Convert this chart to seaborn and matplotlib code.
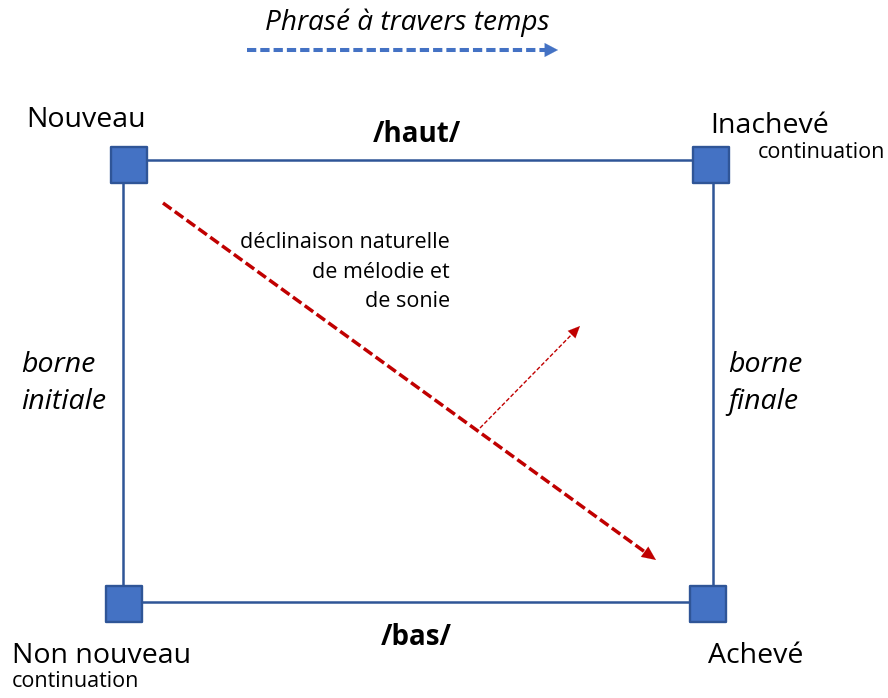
import numpy as np
import matplotlib
matplotlib.use("Agg")
import matplotlib.pyplot as plt
import seaborn as sns

# ---- data ----
frame_x = [123, 713, 713, 123, 123]
frame_y = [160, 160, 602, 602, 160]
node_x = [129, 711, 124, 708]
node_y = [165, 165, 604, 604]

time_arrow = [(247, 50), (558, 50)]
decline_arrow = [(163, 203), (656, 560)]
perp_arrow = [(480, 428), (580, 326)]

title = "Phrasé à travers temps"
corner_labels = ["Nouveau", "Inachevé", "Non nouveau", "Achevé"]
sub_labels = ["continuation", "continuation"]
edge_labels = ["/haut/", "/bas/"]
side_labels = ["borne\ninitiale", "borne\nfinale"]
note_lines = ["déclinaison naturelle", "de mélodie et", "de sonie"]

# ---- style ----
sns.set_theme(style="white")
plt.rcParams['font.family'] = ['Open Sans', 'DejaVu Sans']
plt.rcParams['text.color'] = 'black'

BLUE = '#4472C4'
DARK = '#2F5597'
RED = '#C00000'

fig = plt.figure(figsize=(8.88, 6.98), dpi=100)
ax = fig.add_axes([0, 0, 1, 1])
ax.set_xlim(0, 888)
ax.set_ylim(698, 0)
ax.axis('off')

# frame
sns.lineplot(x=frame_x, y=frame_y, sort=False, estimator=None, ax=ax,
             color=DARK, linewidth=1.8, zorder=2)
# corner nodes
sns.scatterplot(x=node_x, y=node_y, marker='s', s=670, color=BLUE,
                edgecolor=DARK, linewidth=1.7, ax=ax, zorder=4)


def dashed_arrow(p0, p1, color, lw, dash, head_len_px, hl, hw):
    p0 = np.array(p0, float)
    p1 = np.array(p1, float)
    d = p1 - p0
    u = d / np.linalg.norm(d)
    base = p1 - u * head_len_px
    sns.lineplot(x=[p0[0], base[0]], y=[p0[1], base[1]], sort=False,
                 estimator=None, ax=ax, color=color, linewidth=lw,
                 linestyle=(0, dash), zorder=3)
    ax.annotate('', xy=tuple(p1), xytext=tuple(p1 - u * (head_len_px + 1)),
                arrowprops=dict(arrowstyle=f'-|>,head_length={hl},head_width={hw}',
                                color=color, lw=0.1, shrinkA=0, shrinkB=0,
                                mutation_scale=10), zorder=3)


dashed_arrow(*time_arrow, BLUE, 2.9, (2.3, 1.0), 13, 0.95, 0.5)
dashed_arrow(*decline_arrow, RED, 2.5, (3.0, 1.2), 13, 1.0, 0.45)
dashed_arrow(*perp_arrow, RED, 1.0, (3.0, 1.5), 11, 0.85, 0.38)

# texts
BIG = 20.5
SMALL = 15.5
TC = 'black'
ax.text(265, 30, title, fontsize=20.2, style='italic', ha='left', va='baseline', color=TC)
ax.text(26, 127, corner_labels[0], fontsize=BIG, ha='left', va='baseline', color=TC)
ax.text(710, 133, corner_labels[1], fontsize=BIG, ha='left', va='baseline', color=TC)
ax.text(12, 663, corner_labels[2], fontsize=BIG, ha='left', va='baseline', color=TC)
ax.text(708, 663, corner_labels[3], fontsize=BIG, ha='left', va='baseline', color=TC)
ax.text(758, 158, sub_labels[0], fontsize=SMALL, ha='left', va='baseline', color=TC)
ax.text(12, 687, sub_labels[1], fontsize=SMALL, ha='left', va='baseline', color=TC)
ax.text(417, 142, edge_labels[0], fontsize=20, fontweight='bold', ha='center', va='baseline', color=TC)
ax.text(416, 645, edge_labels[1], fontsize=20, fontweight='bold', ha='center', va='baseline', color=TC)
for lab, x0 in zip(side_labels, [21, 728]):
    l1, l2 = lab.split('\n')
    ax.text(x0, 372, l1, fontsize=BIG, style='italic', ha='left', va='baseline', color=TC)
    ax.text(x0, 409, l2, fontsize=BIG, style='italic', ha='left', va='baseline', color=TC)
for i, line in enumerate(note_lines):
    ax.text(450, 248 + 29.5 * i, line, fontsize=SMALL, ha='right', va='baseline', color=TC)

fig.savefig('out.png', dpi=100)
